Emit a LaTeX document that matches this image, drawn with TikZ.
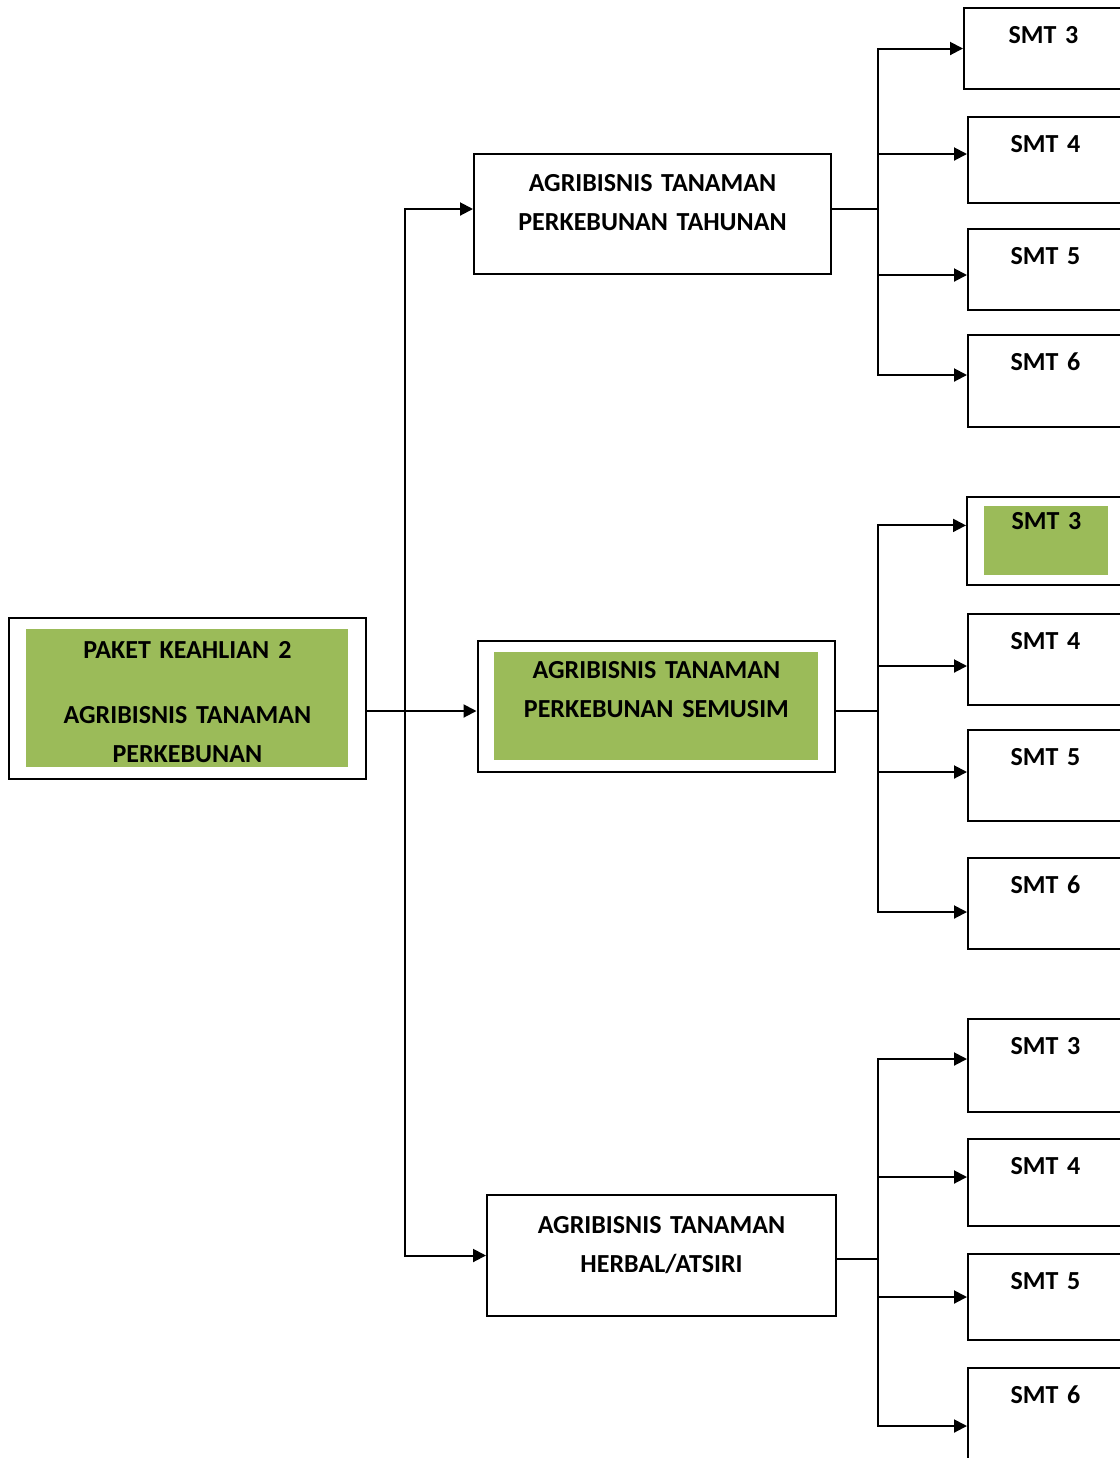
\documentclass[tikz,border=0pt]{standalone}
\usepackage{fontspec}
\setmainfont{Carlito}[WordSpace=0.7]
\usetikzlibrary{arrows.meta, positioning, fit}

\definecolor{leafgreen}{RGB}{155,187,89}

\tikzset{
  lbl/.style={font=\fontsize{13}{19.5}\selectfont\bfseries},
  box/.style={draw, line width=1pt, inner sep=0pt, align=center, anchor=north west, lbl},
  leaf/.style={fill=leafgreen, inner sep=0pt, align=center, anchor=north west, lbl},
  frame/.style={draw, line width=1pt, inner xsep=8.5pt, inner ysep=5.5pt},
  smt/.style={box, text width=77.5pt, text height=17.5pt, text depth=#1},
  wire/.style={line width=1pt},
  link/.style={line width=1pt, -{Triangle[length=6.5pt, width=6.5pt]}}
}

\begin{document}
\begin{tikzpicture}[x=0.5pt, y=-0.5pt]
\useasboundingbox (0,0) rectangle (1120,1458);
\clip (0,0) rectangle (1120,1458);

% paket keahlian
\node (rootg) [leaf, text width=161pt, text height=14.75pt, text depth=54.25pt] at (26,629)
  {PAKET KEAHLIAN\hspace{0.35em}2\\[13pt]AGRIBISNIS TANAMAN\\PERKEBUNAN};
\node (root) [frame, fit=(rootg)] {};

% kompetensi
\node (tahunan) [box, text width=178.5pt, text height=18.75pt, text depth=41.25pt] at (473,153)
  {AGRIBISNIS TANAMAN\\PERKEBUNAN TAHUNAN};
\node (semusimg) [leaf, text width=162pt, text height=13.25pt, text depth=40.75pt] at (494,652)
  {AGRIBISNIS TANAMAN\\PERKEBUNAN SEMUSIM};
\node (semusim) [frame, fit=(semusimg), inner xsep=8.25pt] {};
\node (herbal) [box, text width=174.5pt, text height=19.25pt, text depth=41.25pt] at (486,1194)
  {AGRIBISNIS TANAMAN\\HERBAL/ATSIRI};

% semester, tahunan
\node (a3) [smt=23pt, text width=79.5pt] at (963,7) {SMT 3};
\node (a4) [smt=25.5pt] at (967,116) {SMT 4};
\node (a5) [smt=23pt] at (967,228) {SMT 5};
\node (a6) [smt=28.5pt] at (967,334) {SMT 6};

% semester, semusim
\node (m3g) [leaf, text width=62pt, text height=11.75pt, text depth=22.75pt] at (984,506) {SMT 3};
\node (m3) [frame, fit=(m3g), inner ysep=4.75pt] {};
\node (m4) [smt=28pt] at (967,613) {SMT 4};
\node (m5) [smt=28pt] at (967,729) {SMT 5};
\node (m6) [smt=28pt] at (967,857) {SMT 6};

% semester, herbal
\node (b3) [smt=29pt] at (967,1018) {SMT 3};
\node (b4) [smt=26pt] at (967,1138) {SMT 4};
\node (b5) [smt=25.5pt] at (967,1253) {SMT 5};
\node (b6) [smt=30pt] at (967,1367) {SMT 6};

\coordinate (trunk) at (405,711);
\coordinate (hubA) at (878,209);
\coordinate (hubB) at (878,711);
\coordinate (hubC) at (878,1259);

%Trunk:
\draw [wire] (root.east |- trunk) -- (trunk);
\draw [link] (trunk) |- (tahunan.west |- hubA);
\draw [link] (trunk) -- (semusim.west |- trunk);
\draw [link] (trunk) |- (herbal.west);

%Branches:
\draw [wire] (tahunan.east |- hubA) -- (hubA);
\draw [link] (hubA) |- (a3.west);
\draw [link] (hubA) |- ([yshift=3pt]a4.west);
\draw [link] (hubA) |- ([yshift=-2.75pt]a5.west);
\draw [link] (hubA) |- ([yshift=3pt]a6.west);

\draw [wire] (semusim.east |- hubB) -- (hubB);
\draw [link] (hubB) |- ([yshift=7.75pt]m3.west);
\draw [link] (hubB) |- ([yshift=-3.25pt]m4.west);
\draw [link] (hubB) |- ([yshift=1.75pt]m5.west);
\draw [link] (hubB) |- ([yshift=-4.25pt]m6.west);

\draw [wire] (herbal.east |- hubC) -- (hubC);
\draw [link] (hubC) |- ([yshift=3.25pt]b3.west);
\draw [link] (hubC) |- ([yshift=2.75pt]b4.west);
\draw [link] (hubC) |- (b5.west);
\draw [link] (hubC) |- ([yshift=-5.25pt]b6.west);

\end{tikzpicture}
\end{document}
